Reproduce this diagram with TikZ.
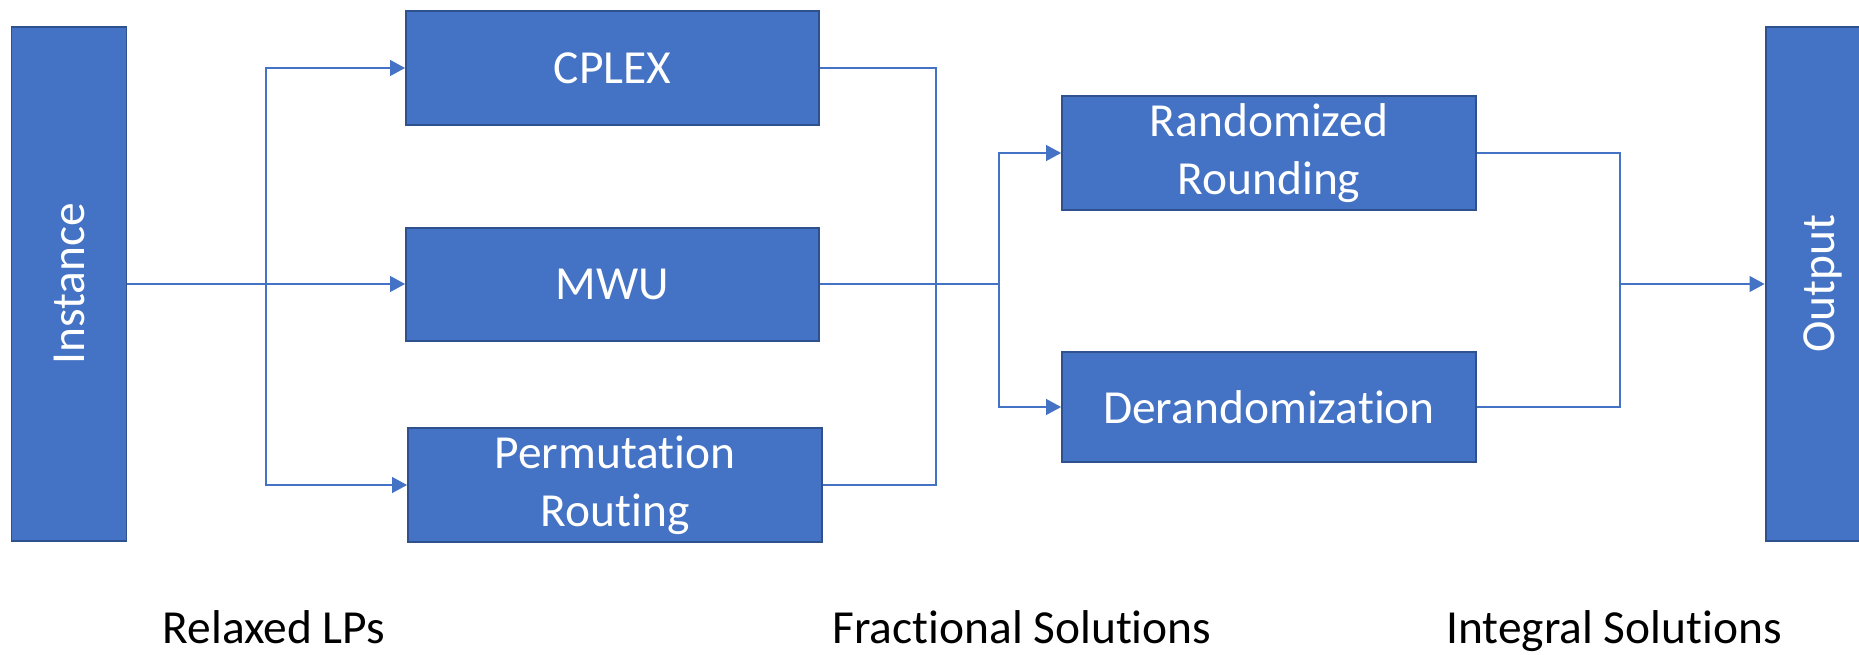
\documentclass[tikz,border=0pt]{standalone}
\usepackage{fontspec}
\setmainfont[Ligatures=NoCommon]{Carlito}
\usetikzlibrary{arrows.meta}
\definecolor{boxblue}{HTML}{4472C4}
\definecolor{boxedge}{HTML}{2F528F}

\begin{document}
\begin{tikzpicture}[x=.02cm, y=-.02cm, line width=.85pt,
  box/.style={draw=boxedge, line width=1.1pt, fill=boxblue, text=white, align=center,
    font=\fontsize{27}{33}\selectfont, inner sep=0pt, minimum width=8.28cm, minimum height=2.28cm},
  tall/.style={box, rotate=90, minimum width=10.28cm, minimum height=2.3cm},
  wire/.style={draw=boxblue},
  feed/.style={wire, -{Triangle[length=8.5pt, width=9pt]}},
  stage/.style={anchor=base, font=\fontsize{27}{33}\selectfont}]
\clip (0,0) rectangle (1859,655);
% input and output columns (rotated, so south is right and north is left)
\node[tall] (inst) at (69,284) {Instance};
\node[tall] (out) at (1823,284) {Output};
% LP solvers
\node[box, minimum width=8.26cm] (cplex) at (612.5,68) {CPLEX};
\node[box, minimum width=8.26cm, minimum height=2.26cm] (mwu) at (612.5,284.5) {MWU};
\node[box] (perm) at (615,485) {Permutation\\Routing};
% rounding
\node[box] (rand) at (1269,153) {Randomized\\Rounding};
\node[box, minimum height=2.2cm] (derand) at (1269,407) {Derandomization};
% branch and join points
\coordinate (fork1) at (266,284);
\coordinate (join1) at (936,284);
\coordinate (fork2) at (999,284);
\coordinate (join2) at (1620,284);
\draw[feed] (inst.south |- fork1) -- (fork1) -- (mwu.west |- fork1);
\draw[feed] (fork1) |- (cplex.west);
\draw[feed] (fork1) |- (perm.west);
\draw[wire] (cplex.east) -| (join1) |- (perm.east);
\draw[wire] (mwu.east |- fork2) -- (fork2);
\draw[feed] (fork2) |- (rand.west);
\draw[feed] (fork2) |- (derand.west);
\draw[wire] (rand.east) -| (join2) |- (derand.east);
\draw[feed] (join2) -- (out.north |- join2);
% stage names
\node[stage] (lps) at (274,643) {Relaxed LPs};
\node[stage] (frac) at (1022,643) {Fractional Solutions};
\node[stage] (integ) at (1614,643) {Integral Solutions};
\end{tikzpicture}
\end{document}
